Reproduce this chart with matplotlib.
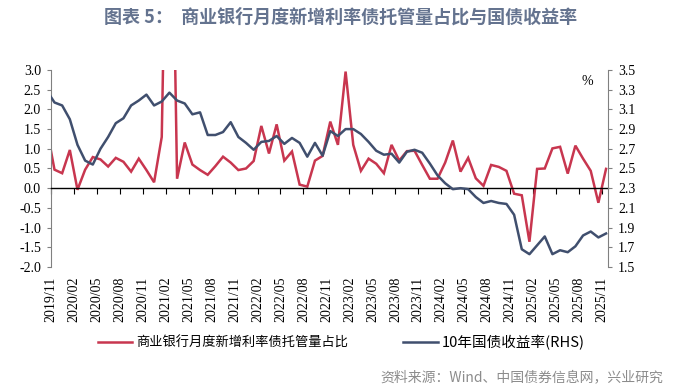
import matplotlib
matplotlib.use("Agg")
import matplotlib.pyplot as plt
import numpy as np
import pandas as pd

# ---------------- data ----------------
months = pd.period_range("2019-10", "2025-11", freq="M")
share_pct = [1.50, 0.47, 0.38, 0.97, -0.04, 0.47, 0.79, 0.73, 0.55, 0.77,
             0.67, 0.42, 0.75, 0.46, 0.15, 1.30, 12.0, 0.24, 1.16, 0.60,
             0.46, 0.34, 0.56, 0.80, 0.65, 0.46, 0.50, 0.69, 1.58, 0.88,
             1.62, 0.70, 0.93, 0.09, 0.04, 0.70, 0.82, 1.69, 1.10, 2.96,
             1.10, 0.44, 0.75, 0.62, 0.38, 1.10, 0.70, 0.94, 0.95, 0.59,
             0.24, 0.24, 0.65, 1.21, 0.42, 0.77, 0.25, 0.06, 0.59, 0.54,
             0.44, -0.14, -0.18, -1.36, 0.49, 0.50, 1.01, 1.05, 0.37, 1.08,
             0.75, 0.44, -0.37, 0.49]
yield_10y = [3.29, 3.17, 3.14, 3.00, 2.74, 2.58, 2.54, 2.70, 2.82, 2.96,
             3.01, 3.14, 3.19, 3.25, 3.14, 3.18, 3.27, 3.19, 3.16, 3.05,
             3.07, 2.84, 2.84, 2.87, 2.97, 2.82, 2.76, 2.69, 2.77, 2.78,
             2.83, 2.75, 2.81, 2.76, 2.62, 2.76, 2.63, 2.88, 2.83, 2.90,
             2.90, 2.85, 2.77, 2.68, 2.64, 2.65, 2.56, 2.67, 2.69, 2.66,
             2.55, 2.43, 2.35, 2.29, 2.30, 2.29, 2.21, 2.15, 2.17, 2.15,
             2.14, 2.03, 1.68, 1.63, 1.72, 1.81, 1.63, 1.67, 1.65, 1.71,
             1.82, 1.86, 1.80, 1.84]
tick_months = months[1::3]
tick_labels = [p.strftime("%Y/%m") for p in tick_months]

series_names = ["商业银行月度新增利率债托管量占比", "10年国债收益率(RHS)"]
red = "#C8364F"
navy = "#404F6E"
grey = "#808080"

# ---------------- layout ----------------
plt.rcParams["font.family"] = ["Liberation Serif", "DejaVu Serif"]
cjk = ["Noto Sans CJK SC", "DejaVu Sans"]

fig = plt.figure(figsize=(6.82, 3.88), dpi=100)
ax = fig.add_axes([0.0743, 0.3119, 0.8177, 0.5077])
ax2 = ax.twinx()

start = months[1]
xpos = np.array([(m - start).n for m in months]) + 0.5
tpos = np.array([(m - start).n for m in tick_months])

l1, = ax.plot(xpos, share_pct, color=red, lw=1.8, solid_joinstyle="miter")
l2, = ax2.plot(xpos, yield_10y, color=navy, lw=1.8)

ax.set_xlim(0, 72.8)
ax.set_ylim(-2.0, 3.0)
ax.set_yticks(np.arange(-2.0, 3.01, 0.5))
ax.yaxis.set_major_formatter(matplotlib.ticker.FormatStrFormatter("%.1f"))
ax2.set_ylim(1.5, 3.5)
ax2.set_yticks(np.arange(1.5, 3.51, 0.2))
ax2.yaxis.set_major_formatter(matplotlib.ticker.FormatStrFormatter("%.1f"))

for a in (ax, ax2):
    a.spines["top"].set_visible(False)
ax.spines["right"].set_visible(False)
ax2.spines["left"].set_visible(False)
ax2.spines["bottom"].set_visible(False)
ax.spines["left"].set_color(grey)
ax2.spines["right"].set_color(grey)
ax.spines["bottom"].set_position(("data", 0))
ax.spines["bottom"].set_color("black")
ax.spines["bottom"].set_linewidth(1.0)

ax.set_xticks(tpos)
ax.tick_params(axis="x", direction="out", length=4, color="black",
               labelbottom=False)
ax.tick_params(axis="y", direction="out", length=3, color=grey,
               labelsize=10, pad=4)
ax2.tick_params(axis="y", direction="out", length=3, color=grey,
                labelsize=10, pad=4)

sec = ax.secondary_xaxis("bottom")
sec.spines["bottom"].set_visible(False)
sec.set_xticks(tpos)
sec.set_xticklabels(tick_labels, rotation=90, fontsize=10)
sec.tick_params(axis="x", length=0, pad=7)

ax2.text(0.962, 0.94, "%", transform=ax.transAxes, fontsize=10,
         ha="center", va="center")

fig.text(0.5, 0.955, "图表 5：  商业银行月度新增利率债托管量占比与国债收益率",
         ha="center", va="center", fontsize=13, fontweight="bold",
         color="#64738F", family=cjk)

leg = fig.legend([l1, l2], series_names, loc="center",
                 bbox_to_anchor=(0.5, 0.118), ncol=2, frameon=False,
                 prop={"family": cjk, "size": 9.5}, handlelength=2.6,
                 handletextpad=0.3, columnspacing=4.2)
leg.get_texts()[1].set_fontsize(10.5)

fig.text(0.972, 0.028, "资料来源：Wind、中国债券信息网，兴业研究",
         ha="right", va="center", fontsize=10, color="#8C8C8C", family=cjk)

fig.savefig("out.png", dpi=100)
